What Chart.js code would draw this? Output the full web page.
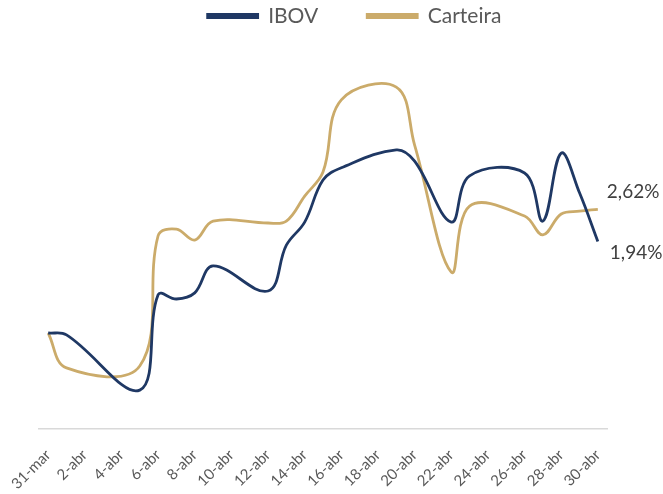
<!DOCTYPE html>
<html>
<head>
<meta charset="utf-8">
<script src="https://cdn.jsdelivr.net/npm/chart.js@4"></script>
<style>
  html, body { margin: 0; padding: 0; background: #ffffff; }
  #wrap { width: 663px; height: 494px; }
</style>
</head>
<body>
<div id="wrap"><canvas id="c" width="663" height="494"></canvas></div>
<script>
// Business days (date axis)
const categories = ['31-mar','1-abr','5-abr','6-abr','7-abr','8-abr','9-abr','12-abr','13-abr','14-abr','15-abr','16-abr','19-abr','20-abr','22-abr','23-abr','26-abr','27-abr','28-abr','29-abr','30-abr'];
// Accumulated return, %
const ibov     = [0, -0.04, -1.21, 0.81, 0.72, 0.85, 1.42, 0.89, 1.86, 2.35, 3.24, 3.50, 3.88, 3.64, 2.35, 3.33, 3.39, 2.37, 3.81, 2.97, 1.94];
const carteira = [0, -0.74, -0.70, 2.06, 2.20, 1.97, 2.37, 2.33, 2.37, 2.90, 3.41, 4.94, 5.21, 3.98, 1.29, 2.69, 2.48, 2.08, 2.52, 2.58, 2.62];
// X-axis tick labels
const tickLabels = ['31-mar','2-abr','4-abr','6-abr','8-abr','10-abr','12-abr','14-abr','16-abr','18-abr','20-abr','22-abr','24-abr','26-abr','28-abr','30-abr'];

const seriesNames = ['IBOV', 'Carteira'];
const seriesColors = ['#1f3864', '#cbab6a'];

function dayOffset(label) {
  const n = parseInt(label, 10);
  return label.endsWith('mar') ? n - 31 : n;
}
function toPoints(values) {
  return categories.map((c, i) => ({ x: dayOffset(c), y: values[i] }));
}
function fmt(v) {
  return v.toFixed(2).replace('.', ',') + '%';
}

const FONT = 'Lato, "Open Sans", sans-serif';
const LEGEND_FONT = 21;
const LEGEND_GAP = 49;

const endLabels = {
  id: 'endLabels',
  afterDatasetsDraw(chart) {
    const ctx = chart.ctx;
    const offsets = [{ dx: 12, dy: 11 }, { dx: 9, dy: -17 }];
    chart.data.datasets.forEach((ds, i) => {
      const meta = chart.getDatasetMeta(i);
      const el = meta.data[meta.data.length - 1];
      const v = ds.data[ds.data.length - 1].y;
      ctx.save();
      ctx.font = '19px ' + FONT;
      ctx.fillStyle = '#404040';
      ctx.textAlign = 'left';
      ctx.textBaseline = 'middle';
      ctx.fillText(fmt(v), el.x + offsets[i].dx, el.y + offsets[i].dy);
      ctx.restore();
    });
  }
};

// Legend sits high with wide spacing between items (as in the original)
const legendPlace = {
  id: 'legendPlace',
  afterLayout(chart) {
    const lg = chart.legend;
    if (!lg) return;
    lg.top = 16 - LEGEND_GAP - LEGEND_FONT / 2;
    lg.left += 51;
    lg.right += 51;
  }
};

new Chart(document.getElementById('c'), {
  type: 'line',
  data: {
    datasets: [
      { label: seriesNames[0], data: toPoints(ibov), borderColor: seriesColors[0], backgroundColor: seriesColors[0], borderWidth: 2.8, pointRadius: 0, tension: 0.38, fill: false },
      { label: seriesNames[1], data: toPoints(carteira), borderColor: seriesColors[1], backgroundColor: seriesColors[1], borderWidth: 2.8, pointRadius: 0, tension: 0.38, fill: false }
    ]
  },
  options: {
    responsive: false,
    animation: false,
    layout: { padding: { left: 0, right: 56, top: 0, bottom: 0 } },
    plugins: {
      legend: {
        position: 'top',
        maxHeight: 32,
        labels: {
          boxWidth: 50,
          boxHeight: 3,
          padding: LEGEND_GAP,
          color: '#595959',
          font: { family: FONT, size: LEGEND_FONT }
        }
      },
      tooltip: { enabled: false }
    },
    scales: {
      x: {
        type: 'linear',
        min: -0.5,
        max: 30.5,
        afterBuildTicks(scale) {
          scale.ticks = tickLabels.map(l => ({ value: dayOffset(l) }));
        },
        afterFit(scale) {
          scale.height = 65;
          scale.paddingLeft = 39;
          scale.paddingRight = 0;
        },
        grid: { display: false, drawTicks: false },
        border: { display: true, color: '#d9d9d9', width: 1.5 },
        ticks: {
          autoSkip: false,
          minRotation: 45,
          maxRotation: 45,
          padding: 17,
          color: '#595959',
          font: { family: FONT, size: 15 },
          callback(value) {
            const l = tickLabels.find(t => dayOffset(t) === value);
            return l === undefined ? '' : l;
          }
        }
      },
      y: {
        display: false,
        min: -2.034,
        max: 6.377
      }
    }
  },
  plugins: [endLabels, legendPlace]
});
</script>
</body>
</html>
